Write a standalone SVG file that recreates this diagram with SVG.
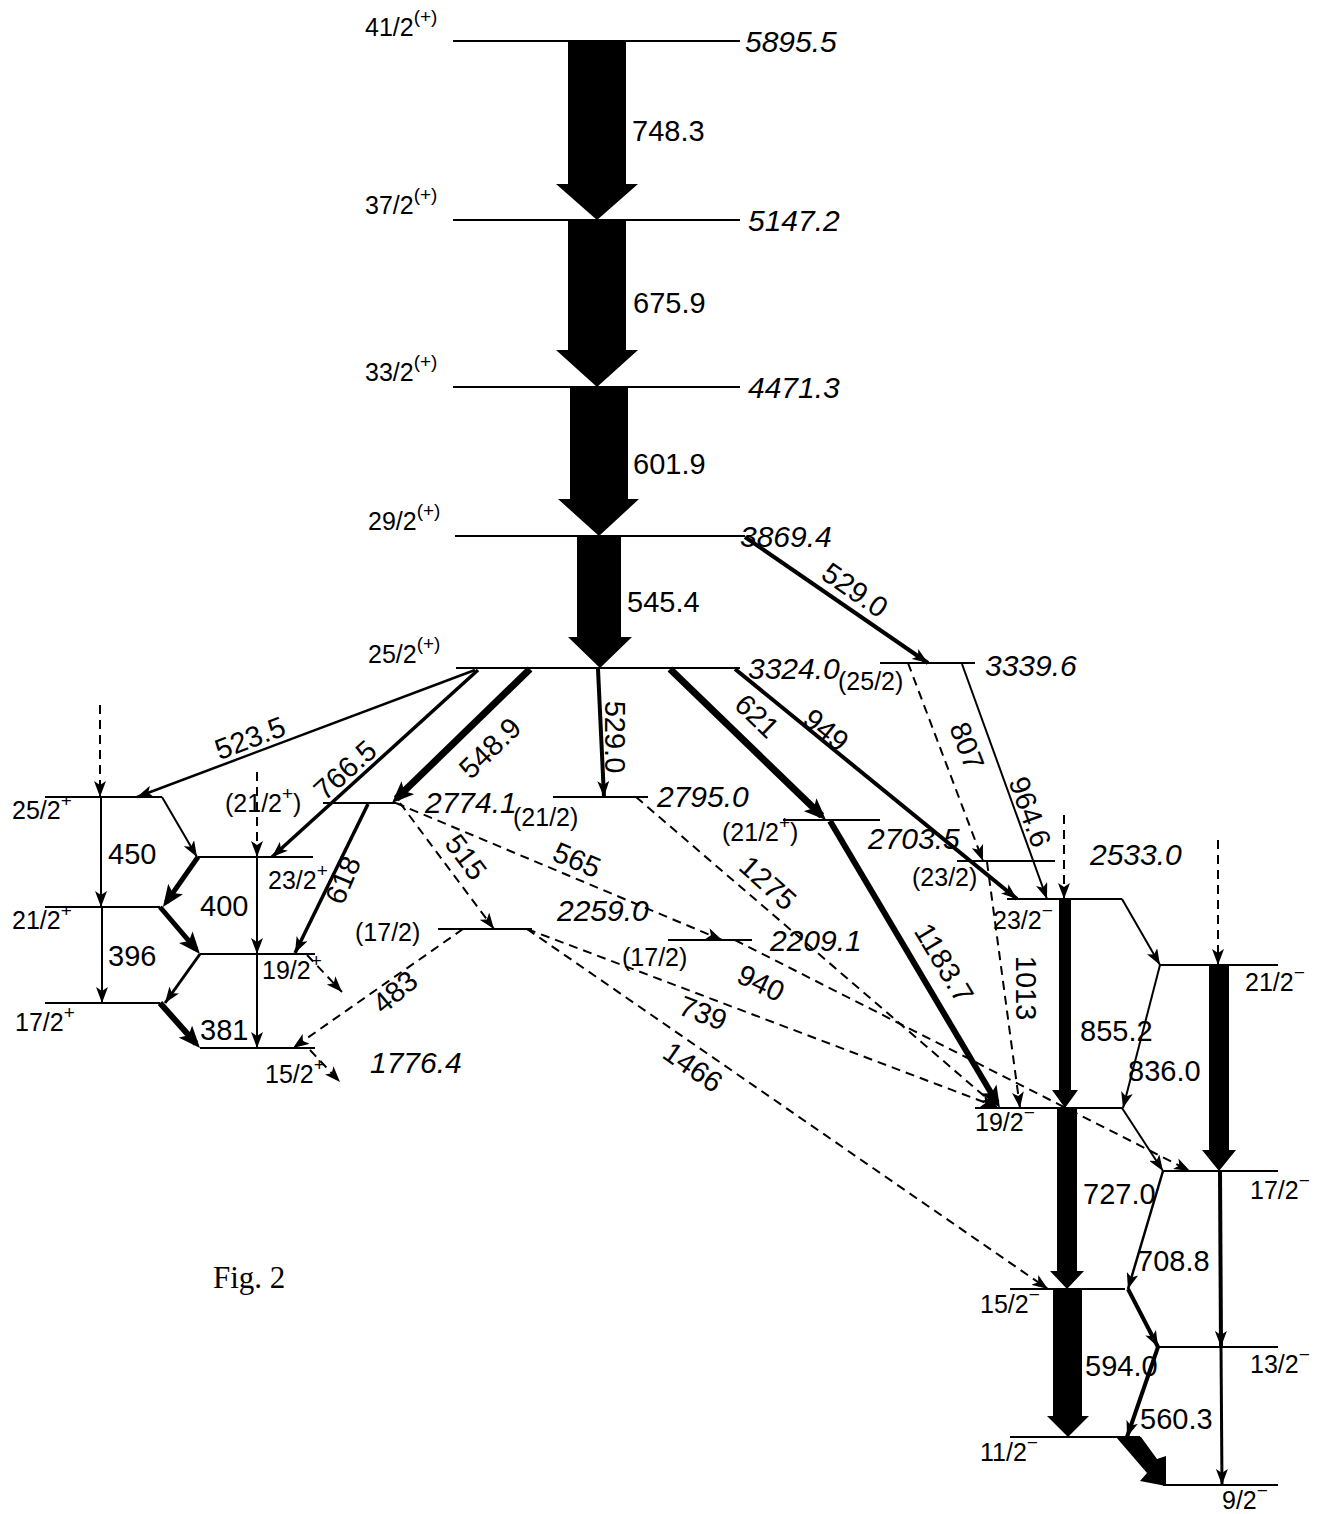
<svg xmlns="http://www.w3.org/2000/svg" width="1317" height="1514" viewBox="0 0 1317 1514">
<defs>
<style>
.lv{stroke:#000;stroke-width:2;fill:none}
.t{font-family:"Liberation Sans",Arial,sans-serif;font-size:29px;fill:#000}
.e{font-family:"Liberation Sans",Arial,sans-serif;font-size:30px;font-style:italic;fill:#000}
.s{font-family:"Liberation Sans",Arial,sans-serif;font-size:25px;fill:#000}
.sup{font-size:19px}
.c{stroke:#000;fill:none}
.d{stroke-dasharray:9 6;stroke-width:2}
.blk{fill:#000;stroke:none}
</style>
<marker id="a" viewBox="0 0 16 12" refX="16" refY="6" markerWidth="16" markerHeight="12" markerUnits="userSpaceOnUse" orient="auto"><path d="M0,0 L16,6 L0,12 L4,6 Z" fill="#000"/></marker>
<marker id="aL" viewBox="0 0 22 18" refX="16" refY="9" markerWidth="22" markerHeight="18" markerUnits="userSpaceOnUse" orient="auto"><path d="M0,0 L22,9 L0,18 L5,9 Z" fill="#000"/></marker>
</defs>
<rect width="1317" height="1514" fill="#fff"/>

<!-- levels -->
<g id="L5895"><line class="lv" x1="453" y1="41" x2="740" y2="41"/><text class="s" x="365" y="36">41/2<tspan class="sup" dy="-13">(+)</tspan></text><text class="e" x="745" y="52">5895.5</text></g>
<g id="L5147"><line class="lv" x1="453" y1="220" x2="740" y2="220"/><text class="s" x="365" y="214">37/2<tspan class="sup" dy="-13">(+)</tspan></text><text class="e" x="748" y="231">5147.2</text></g>
<g id="L4471"><line class="lv" x1="453" y1="387" x2="740" y2="387"/><text class="s" x="365" y="381">33/2<tspan class="sup" dy="-13">(+)</tspan></text><text class="e" x="748" y="398">4471.3</text></g>
<g id="L3869"><line class="lv" x1="455" y1="536" x2="745" y2="536"/><text class="s" x="368" y="530">29/2<tspan class="sup" dy="-13">(+)</tspan></text><text class="e" x="740" y="547">3869.4</text></g>
<g id="L3324"><line class="lv" x1="456" y1="668" x2="740" y2="668"/><text class="s" x="368" y="663">25/2<tspan class="sup" dy="-13">(+)</tspan></text><text class="e" x="748" y="679" font-size="29">3324.0</text></g>
<g id="L3340"><line class="lv" x1="880" y1="663" x2="975" y2="663"/><text class="s" x="838" y="690">(25/2)</text><text class="e" x="985" y="676">3339.6</text></g>
<g id="L2774"><line class="lv" x1="323" y1="803" x2="396" y2="803"/><text class="s" x="225" y="812">(21/2<tspan class="sup" dy="-12">+</tspan><tspan dy="12">)</tspan></text><text class="e" x="425" y="813" font-size="28">2774.1</text></g>
<g id="L2795"><line class="lv" x1="553" y1="797" x2="648" y2="797"/><text class="s" x="513" y="826">(21/2)</text><text class="e" x="657" y="807">2795.0</text></g>
<g id="L2704"><line class="lv" x1="783" y1="820" x2="880" y2="820"/><text class="s" x="722" y="841">(21/2<tspan class="sup" dy="-12">+</tspan><tspan dy="12">)</tspan></text><text class="e" x="868" y="849">2703.5</text></g>
<g id="L2533"><line class="lv" x1="957" y1="861" x2="1055" y2="861"/><text class="s" x="912" y="886">(23/2)</text><text class="e" x="1090" y="865">2533.0</text></g>
<g id="L2259"><line class="lv" x1="438" y1="929" x2="532" y2="929"/><text class="s" x="355" y="941">(17/2)</text><text class="e" x="557" y="921">2259.0</text></g>
<g id="L2209"><line class="lv" x1="668" y1="940" x2="752" y2="940"/><text class="s" x="622" y="966">(17/2)</text><text class="e" x="770" y="951">2209.1</text></g>

<g id="P25"><line class="lv" x1="45" y1="797" x2="162" y2="797"/><text class="s" x="12" y="819">25/2<tspan class="sup" dy="-12">+</tspan></text></g>
<g id="P23"><line class="lv" x1="198" y1="857" x2="313" y2="857"/><text class="s" x="268" y="889">23/2<tspan class="sup" dy="-12">+</tspan></text></g>
<g id="P21"><line class="lv" x1="45" y1="907" x2="160" y2="907"/><text class="s" x="12" y="929">21/2<tspan class="sup" dy="-12">+</tspan></text></g>
<g id="P19"><line class="lv" x1="200" y1="954" x2="315" y2="954"/><text class="s" x="262" y="979">19/2<tspan class="sup" dy="-12">+</tspan></text></g>
<g id="P17"><line class="lv" x1="45" y1="1003" x2="160" y2="1003"/><text class="s" x="15" y="1031">17/2<tspan class="sup" dy="-12">+</tspan></text></g>
<g id="P15"><line class="lv" x1="200" y1="1048" x2="315" y2="1048"/><text class="s" x="265" y="1083">15/2<tspan class="sup" dy="-12">+</tspan></text><text class="e" x="370" y="1073">1776.4</text></g>

<g id="N23"><line class="lv" x1="1007" y1="899" x2="1122" y2="899"/><text class="s" x="993" y="929">23/2<tspan class="sup" dy="-12">−</tspan></text></g>
<g id="N21"><line class="lv" x1="1160" y1="965" x2="1278" y2="965"/><text class="s" x="1245" y="991">21/2<tspan class="sup" dy="-12">−</tspan></text></g>
<g id="N19"><line class="lv" x1="975" y1="1108" x2="1122" y2="1108"/><text class="s" x="975" y="1131">19/2<tspan class="sup" dy="-12">−</tspan></text></g>
<g id="N17"><line class="lv" x1="1163" y1="1171" x2="1278" y2="1171"/><text class="s" x="1250" y="1199">17/2<tspan class="sup" dy="-12">−</tspan></text></g>
<g id="N15"><line class="lv" x1="1010" y1="1289" x2="1125" y2="1289"/><text class="s" x="980" y="1313">15/2<tspan class="sup" dy="-12">−</tspan></text></g>
<g id="N13"><line class="lv" x1="1157" y1="1347" x2="1278" y2="1347"/><text class="s" x="1250" y="1373">13/2<tspan class="sup" dy="-12">−</tspan></text></g>
<g id="N11"><line class="lv" x1="1010" y1="1437" x2="1140" y2="1437"/><text class="s" x="980" y="1461">11/2<tspan class="sup" dy="-12">−</tspan></text></g>
<g id="N9"><line class="lv" x1="1163" y1="1485" x2="1278" y2="1485"/><text class="s" x="1222" y="1509">9/2<tspan class="sup" dy="-12">−</tspan></text></g>

<!-- connectors -->
<g id="connectors">
<path class="blk" d="M568,42 H626 V184 H638 L597,220 L556,184 H568 Z"/>
<path class="blk" d="M568,221 H626 V350 H638 L597,387 L556,350 H568 Z"/>
<path class="blk" d="M570,388 H628 V499 H639 L599,536 L558,499 H570 Z"/>
<path class="blk" d="M577,537 H621 V637 H632 L600,668 L568,637 H577 Z"/>
<path class="blk" d="M1059,900 H1071 V1090 H1078 L1065,1108 L1052,1090 H1059 Z"/>
<path class="blk" d="M1209,966 H1229 V1150 H1236 L1219,1171 L1202,1150 H1209 Z"/>
<path class="blk" d="M1057,1109 H1077 V1271 H1084 L1067,1289 L1050,1271 H1057 Z"/>
<path class="blk" d="M1053,1290 H1082 V1416 H1089 L1068,1437 L1047,1416 H1053 Z"/>
<path class="blk" d="M1116,1437 L1141,1437 L1157,1459 L1166,1456 L1166,1486 L1140,1481 L1147,1473 Z"/>

<line class="c" stroke-width="2.5" x1="475" y1="670" x2="137" y2="797" marker-end="url(#a)"/>
<line class="c" stroke-width="3.5" x1="478" y1="670" x2="272" y2="857" marker-end="url(#a)"/>
<line class="c" stroke-width="7" x1="530" y1="669" x2="396.3" y2="798.8" marker-end="url(#aL)"/>
<line class="c" stroke-width="4" x1="598" y1="669" x2="604" y2="797" marker-end="url(#a)"/>
<line class="c" stroke-width="7" x1="670" y1="669" x2="821.7" y2="815.8" marker-end="url(#aL)"/>
<line class="c" stroke-width="6" x1="830" y1="821" x2="996.9" y2="1102.8" marker-end="url(#aL)"/>
<line class="c" stroke-width="4" x1="735" y1="669" x2="1017" y2="899" marker-end="url(#a)"/>
<line class="c" stroke-width="4" x1="745" y1="537" x2="928" y2="663" marker-end="url(#a)"/>
<line class="c" stroke-width="2" x1="962" y1="664" x2="1047" y2="899" marker-end="url(#a)"/>
<line class="c" stroke-width="3.5" x1="368" y1="804" x2="295" y2="953" marker-end="url(#a)"/>

<line class="c" stroke-width="2" x1="101" y1="797" x2="101" y2="907" marker-end="url(#a)"/>
<line class="c" stroke-width="2" x1="102" y1="907" x2="102" y2="1003" marker-end="url(#a)"/>
<line class="c" stroke-width="2" x1="162" y1="797" x2="197" y2="857" marker-end="url(#a)"/>
<line class="c" stroke-width="5" x1="198" y1="857" x2="166.4" y2="902.1" marker-end="url(#aL)"/>
<line class="c" stroke-width="5" x1="160" y1="907" x2="196.1" y2="949.4" marker-end="url(#aL)"/>
<line class="c" stroke-width="3" x1="200" y1="954" x2="165" y2="1003" marker-end="url(#a)"/>
<line class="c" stroke-width="6" x1="160" y1="1003" x2="196" y2="1043.5" marker-end="url(#aL)"/>
<line class="c" stroke-width="2" x1="257" y1="857" x2="257" y2="954" marker-end="url(#a)"/>
<line class="c" stroke-width="2" x1="257" y1="954" x2="257" y2="1048" marker-end="url(#a)"/>

<line class="c" stroke-width="2" x1="1122" y1="899" x2="1160" y2="965" marker-end="url(#a)"/>
<line class="c" stroke-width="2" x1="1160" y1="965" x2="1123" y2="1108" marker-end="url(#a)"/>
<line class="c" stroke-width="2" x1="1122" y1="1108" x2="1163" y2="1171" marker-end="url(#a)"/>
<line class="c" stroke-width="2.5" x1="1163" y1="1171" x2="1128" y2="1289" marker-end="url(#a)"/>
<line class="c" stroke-width="4" x1="1128" y1="1289" x2="1158" y2="1347" marker-end="url(#a)"/>
<line class="c" stroke-width="4" x1="1158" y1="1347" x2="1127" y2="1437" marker-end="url(#a)"/>
<line class="c" stroke-width="4" x1="1220" y1="1171" x2="1221" y2="1347" marker-end="url(#a)"/>
<line class="c" stroke-width="3" x1="1221" y1="1347" x2="1222" y2="1485" marker-end="url(#a)"/>

<line class="c d" x1="100" y1="705" x2="100" y2="797" marker-end="url(#a)"/>
<line class="c d" x1="257" y1="772" x2="257" y2="857" marker-end="url(#a)"/>
<line class="c d" x1="307" y1="955" x2="342" y2="992" marker-end="url(#a)"/>
<line class="c d" x1="310" y1="1050" x2="340" y2="1082" marker-end="url(#a)"/>
<line class="c d" x1="400" y1="803" x2="494" y2="929" marker-end="url(#a)"/>
<line class="c d" x1="396" y1="803" x2="722" y2="940" marker-end="url(#a)"/>
<line class="c d" x1="463" y1="929" x2="293" y2="1048" marker-end="url(#a)"/>
<line class="c d" x1="636" y1="797" x2="997" y2="1107" marker-end="url(#a)"/>
<line class="c d" x1="527" y1="929" x2="997" y2="1107" marker-end="url(#a)"/>
<line class="c d" x1="527" y1="929" x2="1048" y2="1289" marker-end="url(#a)"/>
<line class="c d" x1="735" y1="940" x2="1190" y2="1171" marker-end="url(#a)"/>
<line class="c d" x1="908" y1="663" x2="983" y2="861" marker-end="url(#a)"/>
<line class="c d" x1="987" y1="862" x2="1020" y2="1108" marker-end="url(#a)"/>
<line class="c d" x1="1064" y1="815" x2="1064" y2="899" marker-end="url(#a)"/>
<line class="c d" x1="1218" y1="840" x2="1218" y2="965" marker-end="url(#a)"/>

<!-- transition labels -->
<text class="t" x="632" y="141">748.3</text>
<text class="t" x="633" y="313">675.9</text>
<text class="t" x="633" y="474">601.9</text>
<text class="t" x="627" y="612">545.4</text>
<text class="t" x="108" y="864">450</text>
<text class="t" x="200" y="916">400</text>
<text class="t" x="108" y="966">396</text>
<text class="t" x="200" y="1040">381</text>
<text class="t" x="1080" y="1041">855.2</text>
<text class="t" x="1128" y="1081">836.0</text>
<text class="t" x="1083" y="1204">727.0</text>
<text class="t" x="1137" y="1271">708.8</text>
<text class="t" x="1085" y="1376">594.0</text>
<text class="t" x="1140" y="1429">560.3</text>
<g class="t" text-anchor="middle">
<text transform="translate(250,738) rotate(-20.6)" y="10">523.5</text>
<text transform="translate(345,770) rotate(-42)" y="10">766.5</text>
<text transform="translate(490,748) rotate(-44)" y="10">548.9</text>
<text transform="translate(615,737) rotate(90)" y="10">529.0</text>
<text transform="translate(757,716) rotate(44)" y="10">621</text>
<text transform="translate(826,730) rotate(39)" y="10">949</text>
<text transform="translate(855,590) rotate(35)" y="10">529.0</text>
<text transform="translate(967,746) rotate(69)" y="10">807</text>
<text transform="translate(1030,812) rotate(70)" y="10">964.6</text>
<text transform="translate(466,857) rotate(53)" y="10">515</text>
<text transform="translate(577,860) rotate(23)" y="10">565</text>
<text transform="translate(343,880) rotate(-67)" y="10">618</text>
<text transform="translate(768,883) rotate(42)" y="10">1275</text>
<text transform="translate(395,992) rotate(-40)" y="10">483</text>
<text transform="translate(761,983) rotate(26)" y="10">940</text>
<text transform="translate(703,1013) rotate(21)" y="10">739</text>
<text transform="translate(693,1067) rotate(35)" y="10">1466</text>
<text transform="translate(944,963) rotate(59)" y="10">1183.7</text>
<text transform="translate(1026,988) rotate(90)" y="10">1013</text>
</g>
</g>

<text x="213" y="1288" font-family="'Liberation Serif','Times New Roman',serif" font-size="31" fill="#000">Fig. 2</text>
</svg>
